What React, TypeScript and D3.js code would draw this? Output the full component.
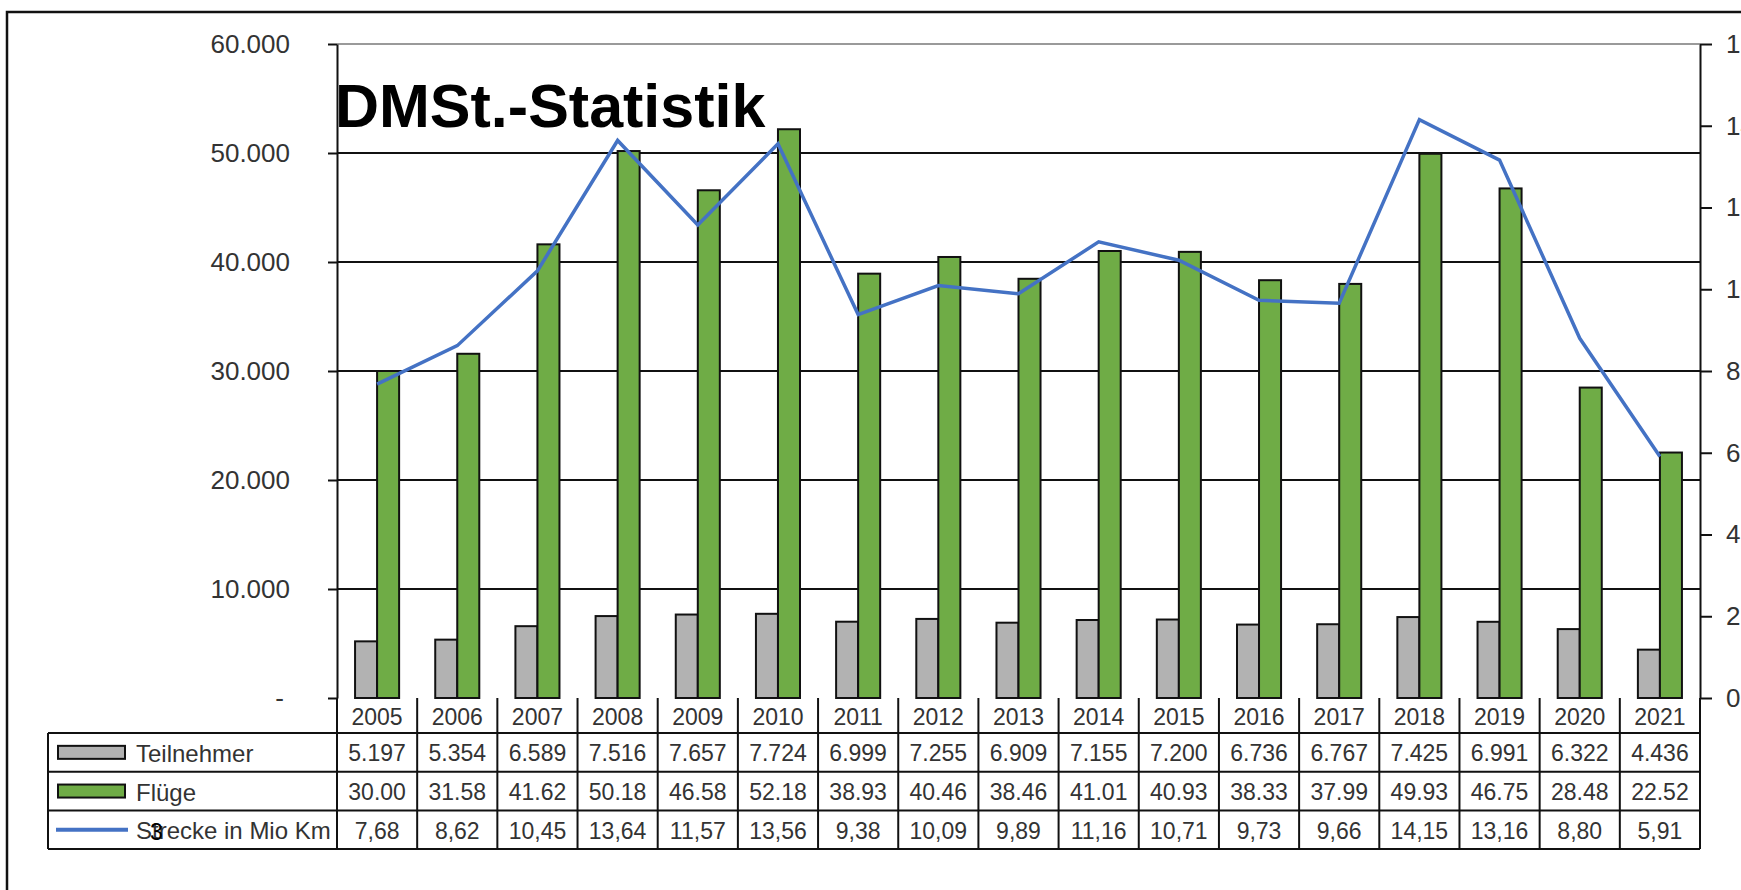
import { useEffect, useRef } from "react"
import * as d3 from "d3"

// Chart data
const years = ["2005", "2006", "2007", "2008", "2009", "2010", "2011", "2012", "2013", "2014", "2015", "2016", "2017", "2018", "2019", "2020", "2021"]
const teilnehmer = [5197, 5354, 6589, 7516, 7657, 7724, 6999, 7255, 6909, 7155, 7200, 6736, 6767, 7425, 6991, 6322, 4436]
const fluege = [30000, 31580, 41620, 50180, 46580, 52180, 38930, 40460, 38460, 41010, 40930, 38330, 37990, 49930, 46750, 28480, 22520]
const strecke = [7.68, 8.62, 10.45, 13.64, 11.57, 13.56, 9.38, 10.09, 9.89, 11.16, 10.71, 9.73, 9.66, 14.15, 13.16, 8.8, 5.91]
const leftTicks = [0, 10000, 20000, 30000, 40000, 50000, 60000]
const rightTicks = [0, 2, 4, 6, 8, 10, 12, 14, 16]
const seriesNames = ["Teilnehmer", "Flüge", "Strecke in Mio Km"]

const W = 1741
const H = 890
const FONT = "'Liberation Sans', Arial, sans-serif"

export default function App() {
  const svgRef = useRef<SVGSVGElement>(null)

  useEffect(() => {
    if (!svgRef.current) return
    const de = d3.formatLocale({ decimal: ",", thousands: ".", grouping: [3], currency: ["", " €"] })

    const plot = { left: 337, right: 1700, top: 44, bottom: 698 }
    const tableLeft = 48
    const headerH = 35
    const rowH = 38.7

    const root = d3.select(svgRef.current)
    root.selectAll("*").remove()
    const svg = root.attr("width", W).attr("height", H)

    svg.append("rect").attr("width", W).attr("height", H).attr("fill", "white")

    // outer frame (cut off at right / bottom)
    svg.append("path")
      .attr("d", `M7,${H} L7,12 L${W},12`)
      .attr("fill", "none").attr("stroke", "#111").attr("stroke-width", 2.5)

    // scales
    const x = d3.scaleBand().domain(years).range([plot.left, plot.right])
    const xs = d3.scaleBand().domain(["t", "f"]).range([0, x.bandwidth()]).paddingOuter(0.82)
    const yL = d3.scaleLinear().domain([0, 60000]).range([plot.bottom, plot.top])
    const yR = d3.scaleLinear().domain([0, 16]).range([plot.bottom, plot.top])

    // gridlines
    svg.append("g")
      .selectAll("line")
      .data(leftTicks.filter((d) => d > 0))
      .join("line")
      .attr("x1", plot.left).attr("x2", plot.right)
      .attr("y1", (d) => yL(d)).attr("y2", (d) => yL(d))
      .attr("stroke", (d) => (d === 60000 ? "#9a9a9a" : "#111"))
      .attr("stroke-width", 2)

    // title
    svg.append("text")
      .attr("x", 335).attr("y", 127)
      .style("font-family", FONT).style("font-size", "61px").style("font-weight", "bold")
      .attr("fill", "#000")
      .text("DMSt.-Statistik")

    // bars
    const cells = years.map((yr, i) => ({ yr, t: teilnehmer[i], f: fluege[i], s: strecke[i] }))
    svg.append("g")
      .selectAll("rect")
      .data(cells)
      .join("rect")
      .attr("x", (d) => (x(d.yr) || 0) + (xs("t") || 0))
      .attr("y", (d) => yL(d.t))
      .attr("width", xs.bandwidth())
      .attr("height", (d) => plot.bottom - yL(d.t))
      .attr("fill", "#b2b2b2").attr("stroke", "#111").attr("stroke-width", 2)
    svg.append("g")
      .selectAll("rect")
      .data(cells)
      .join("rect")
      .attr("x", (d) => (x(d.yr) || 0) + (xs("f") || 0))
      .attr("y", (d) => yL(d.f))
      .attr("width", xs.bandwidth())
      .attr("height", (d) => plot.bottom - yL(d.f))
      .attr("fill", "#6fac46").attr("stroke", "#111").attr("stroke-width", 2)

    // line
    const line = d3.line<(typeof cells)[number]>()
      .x((d) => (x(d.yr) || 0) + x.bandwidth() / 2)
      .y((d) => yR(d.s))
    svg.append("path")
      .datum(cells)
      .attr("d", line)
      .attr("fill", "none").attr("stroke", "#4472c4").attr("stroke-width", 3.5)

    // left axis
    const axL = svg.append("g")
      .attr("transform", `translate(${plot.left},0)`)
      .call(
        d3.axisLeft(yL).tickValues(leftTicks).tickSize(9).tickSizeOuter(0).tickPadding(38)
          .tickFormat((d) => (+d === 0 ? "-" : de.format(",.0f")(+d)))
      )
    axL.select(".domain").attr("stroke", "#111").attr("stroke-width", 2)
    axL.selectAll(".tick line").attr("stroke", "#111").attr("stroke-width", 2)
    axL.selectAll(".tick text")
      .style("font-family", FONT).style("font-size", "26px").attr("fill", "#333")
      .attr("dx", (d) => (+d === 0 ? -6 : 0))

    // right axis
    const axR = svg.append("g")
      .attr("transform", `translate(${plot.right},0)`)
      .call(d3.axisRight(yR).tickValues(rightTicks).tickSize(12).tickSizeOuter(0).tickPadding(14))
    axR.select(".domain").attr("stroke", "#111").attr("stroke-width", 2)
    axR.selectAll(".tick line").attr("stroke", "#111").attr("stroke-width", 2)
    axR.selectAll(".tick text").style("font-family", FONT).style("font-size", "26px").attr("fill", "#333")

    // data table
    const tableTop = plot.bottom
    const rowTop = (r: number) => tableTop + headerH + r * rowH
    const tableBottom = rowTop(3)
    const tbl = svg.append("g").attr("stroke", "#111").attr("stroke-width", 2)
    tbl.selectAll("line.v")
      .data([...years.map((yr) => x(yr) || 0), plot.right])
      .join("line")
      .attr("x1", (d) => d).attr("x2", (d) => d)
      .attr("y1", tableTop).attr("y2", tableBottom)
    tbl.selectAll("line.h")
      .data([0, 1, 2, 3])
      .join("line")
      .attr("x1", tableLeft).attr("x2", plot.right)
      .attr("y1", (r) => rowTop(r)).attr("y2", (r) => rowTop(r))
    tbl.append("line")
      .attr("x1", tableLeft).attr("x2", tableLeft)
      .attr("y1", rowTop(0)).attr("y2", tableBottom)

    const cx = (yr: string) => (x(yr) || 0) + x.bandwidth() / 2
    const txt = svg.append("g")
      .style("font-family", FONT).style("font-size", "23px")
      .attr("fill", "#333").attr("text-anchor", "middle").attr("dominant-baseline", "central")
    txt.selectAll("text.yr").data(years).join("text")
      .attr("x", cx).attr("y", tableTop + headerH / 2 + 1).text((d) => d)
    const rows = [
      cells.map((d) => de.format(",d")(d.t)),
      cells.map((d) => (d.f / 1000).toFixed(2)),
      cells.map((d) => de.format(".2f")(d.s)),
    ]
    rows.forEach((vals, r) => {
      txt.append("g").selectAll("text").data(vals).join("text")
        .attr("x", (_, i) => cx(years[i]))
        .attr("y", rowTop(r) + rowH / 2 + 1)
        .text((d) => d)
    })

    // legend keys in the table
    const keyY = (r: number) => rowTop(r) + rowH / 2
    svg.append("rect").attr("x", 58).attr("y", keyY(0) - 6.5).attr("width", 67).attr("height", 13)
      .attr("fill", "#b2b2b2").attr("stroke", "#111").attr("stroke-width", 2)
    svg.append("rect").attr("x", 58).attr("y", keyY(1) - 6.5).attr("width", 67).attr("height", 13)
      .attr("fill", "#6fac46").attr("stroke", "#111").attr("stroke-width", 2)
    svg.append("line").attr("x1", 56).attr("x2", 128).attr("y1", keyY(2)).attr("y2", keyY(2))
      .attr("stroke", "#4472c4").attr("stroke-width", 4)
    svg.append("g")
      .style("font-family", FONT).style("font-size", "24px").attr("fill", "#333")
      .attr("dominant-baseline", "central")
      .selectAll("text").data(seriesNames).join("text")
      .attr("x", 136).attr("y", (_, r) => keyY(r) + 1)
      .text((d) => d)
    svg.append("text")
      .attr("x", 150).attr("y", keyY(2) + 2)
      .attr("dominant-baseline", "central")
      .style("font-family", FONT).style("font-size", "23px").attr("fill", "#000")
      .text("3")
  }, [])

  return (
    <div style={{ position: "absolute", left: 0, top: 0, width: W, height: H, overflow: "hidden" }}>
      <svg ref={svgRef} style={{ display: "block" }}></svg>
    </div>
  )
}
